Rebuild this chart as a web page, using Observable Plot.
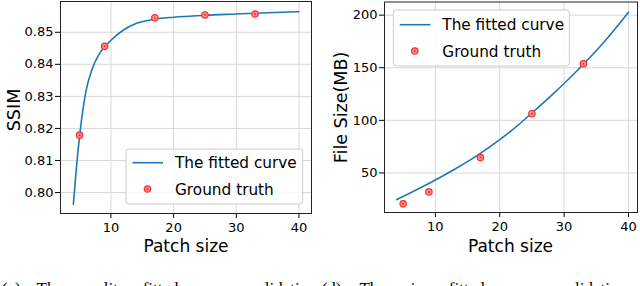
<!DOCTYPE html>
<html>
<head>
<meta charset="utf-8">
<script src="https://cdn.jsdelivr.net/npm/d3@7"></script>
<script src="https://cdn.jsdelivr.net/npm/@observablehq/plot@0.6"></script>
<style>
  html, body { margin: 0; padding: 0; background: white; }
  #wrap { position: relative; width: 640px; height: 286px; overflow: hidden; background: white; }
  #wrap > svg { position: absolute; }
</style>
</head>
<body>
<div id="wrap"></div>
<script>
// ---- data ----
const patchSizes = [5, 9, 17, 25, 33];
const ssimTruth = [0.8179, 0.8456, 0.8545, 0.8554, 0.8557];
const fileTruth = [20.6, 32.0, 64.6, 106.3, 153.8];

const ssimCurveX = [4, 4.5, 5, 5.5, 6, 7, 8, 9, 10, 12, 14, 17, 20, 25, 30, 35, 40];
const ssimCurveY = [0.7963, 0.8080, 0.8177, 0.8255, 0.8315, 0.8385, 0.8428, 0.8455, 0.8475, 0.8507, 0.8527, 0.8541, 0.8547, 0.8553, 0.8557, 0.8561, 0.8564];

const fileCurveX = [4, 6, 8, 10, 13, 17, 20, 22, 25, 28, 30, 33, 36, 38, 40];
const fileCurveY = [24.7, 30.7, 36.9, 43.3, 53.5, 68.6, 81.7, 91.1, 107, 123.5, 135, 153.3, 173, 187.5, 202.8];

const xTicks = [10, 20, 30, 40];
const ssimTicks = [0.80, 0.81, 0.82, 0.83, 0.84, 0.85];
const fileTicks = [50, 100, 150, 200];

const legendLabels = ["The fitted curve", "Ground truth"];
const xLabel = "Patch size";
const yLabels = ["SSIM", "File Size(MB)"];
const captions = ["(c) The quality fitted curve validation", "(d) The size fitted curve validation"];

const lineColor = "#1f77b4";
const dotStroke = "#ff2a2a";
const dotFill = "#ff9090";

const W = 320, H = 260;
const wrap = document.getElementById("wrap");

function makePanel(cfg) {
  const curve = cfg.curveX.map((x, i) => ({x, y: cfg.curveY[i]}));
  const truth = patchSizes.map((x, i) => ({x, y: cfg.truth[i]}));
  const svg = Plot.plot({
    width: W, height: H,
    marginLeft: cfg.ml, marginRight: cfg.mr, marginTop: cfg.mt, marginBottom: cfg.mb,
    style: {fontFamily: "DejaVu Sans", fontSize: "13px", color: "black", background: "white", overflow: "visible"},
    x: {domain: cfg.xDomain},
    y: {domain: cfg.yDomain},
    marks: [
      Plot.gridX(xTicks, {stroke: "#d8d8d8", strokeOpacity: 1}),
      Plot.gridY(cfg.yTicks, {stroke: "#d8d8d8", strokeOpacity: 1}),
      Plot.line(curve, {x: "x", y: "y", stroke: lineColor, strokeWidth: 1.6, curve: "monotone-x"}),
      Plot.dot(truth, {x: "x", y: "y", r: 3.2, stroke: dotStroke, strokeWidth: 1.2, fill: dotFill}),
      Plot.dot(truth, {x: "x", y: "y", r: 1, fill: dotStroke}),
      Plot.axisX({ticks: xTicks, tickSize: 5, tickPadding: 4.5, label: null, fontSize: 13}),
      Plot.axisY({ticks: cfg.yTicks, tickSize: 5, tickPadding: 2, label: null, fontSize: 13,
                  tickFormat: cfg.yFormat}),
      Plot.frame({stroke: "#222", strokeWidth: 1})
    ]
  });
  svg.style.left = cfg.left + "px";
  svg.style.top = "0px";
  const s = d3.select(svg);
  // axis labels
  s.append("text").attr("x", cfg.xLabelX).attr("y", 251.7)
    .attr("text-anchor", "middle").attr("font-family", "DejaVu Sans").attr("font-size", 17)
    .attr("fill", "black").text(xLabel);
  s.append("text").attr("transform", `translate(${cfg.yLabelX},${cfg.yLabelY}) rotate(-90)`)
    .attr("text-anchor", "middle").attr("font-family", "DejaVu Sans").attr("font-size", 17.5)
    .attr("fill", "black").text(cfg.yLabel);
  // legend
  const L = cfg.legend;
  const g = s.append("g");
  g.append("rect").attr("x", L.x).attr("y", L.y).attr("width", L.w).attr("height", L.h)
    .attr("rx", 3).attr("fill", "white").attr("fill-opacity", 0.85).attr("stroke", "#cccccc");
  g.append("line").attr("x1", L.x + 6.5).attr("x2", L.x + 37).attr("y1", L.row1).attr("y2", L.row1)
    .attr("stroke", lineColor).attr("stroke-width", 1.6);
  g.append("circle").attr("cx", L.x + 21.5).attr("cy", L.row2).attr("r", 3.2)
    .attr("stroke", dotStroke).attr("stroke-width", 1.2).attr("fill", dotFill);
  g.append("circle").attr("cx", L.x + 21.5).attr("cy", L.row2).attr("r", 1).attr("fill", dotStroke);
  legendLabels.forEach((t, i) => {
    g.append("text").attr("x", L.x + 49).attr("y", i === 0 ? L.row1 : L.row2)
      .attr("dy", "0.36em").attr("text-anchor", "start")
      .attr("font-family", "DejaVu Sans").attr("font-size", 15.3)
      .attr("fill", "black").text(t);
  });
  wrap.appendChild(svg);
}

makePanel({
  left: 0, ml: 60, mr: 9, mt: 1, mb: 47,
  xDomain: [1.95, 42.0], yDomain: [0.79346, 0.8596],
  yTicks: ssimTicks, yFormat: d3.format(".2f"),
  curveX: ssimCurveX, curveY: ssimCurveY, truth: ssimTruth,
  xLabelX: 186, yLabelX: 19.5, yLabelY: 110, yLabel: yLabels[0],
  legend: {x: 126, y: 149, w: 176.7, h: 55, row1: 162.7, row2: 189}
});

makePanel({
  left: 320, ml: 64, mr: 3, mt: 1.5, mb: 48,
  xDomain: [2.1, 41.4], yDomain: [12.4, 212.5],
  yTicks: fileTicks, yFormat: d3.format("d"),
  curveX: fileCurveX, curveY: fileCurveY, truth: fileTruth,
  xLabelX: 190.5, yLabelX: 27, yLabelY: 107.5, yLabel: yLabels[1],
  legend: {x: 73.3, y: 10, w: 176, h: 56, row1: 24.7, row2: 51}
});

// captions (partially cut by the bottom edge, like the reference)
const cap = d3.select(wrap).append("svg")
  .attr("width", 640).attr("height", 40)
  .style("left", "0px").style("top", "260px");
cap.append("text").attr("x", 1.7).attr("y", 34)
  .attr("font-family", "Liberation Serif").attr("font-size", 17).attr("word-spacing", 12)
  .attr("fill", "black").text(captions[0]);
cap.append("text").attr("x", 321.7).attr("y", 34)
  .attr("font-family", "Liberation Serif").attr("font-size", 17).attr("word-spacing", 14)
  .attr("fill", "black").text(captions[1]);
</script>
</body>
</html>
